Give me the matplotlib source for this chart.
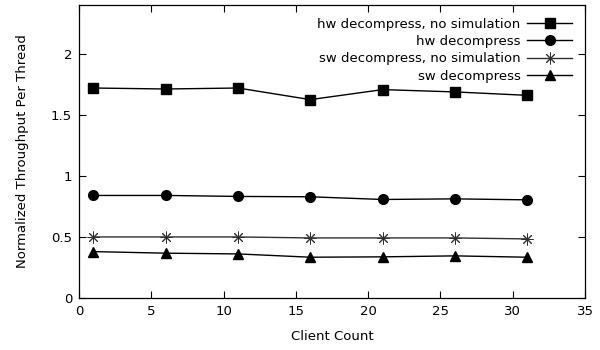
import matplotlib
matplotlib.use('Agg')
import matplotlib.pyplot as plt

plt.rc('font', size=9.5, family='DejaVu Sans')

clients = [1, 6, 11, 16, 21, 26, 31]

hw_nosim = [1.72, 1.712, 1.72, 1.625, 1.707, 1.688, 1.66]
hw = [0.84, 0.84, 0.832, 0.829, 0.807, 0.812, 0.804]
sw_nosim = [0.50, 0.50, 0.50, 0.492, 0.492, 0.492, 0.484]
sw = [0.38, 0.367, 0.361, 0.334, 0.337, 0.345, 0.334]

labels = ['hw decompress, no simulation', 'hw decompress',
          'sw decompress, no simulation', 'sw decompress']

fig = plt.figure(figsize=(6.0, 3.5), dpi=100)
ax = fig.add_axes([0.1317, 0.1486, 0.975 - 0.1317, 0.9857 - 0.1486])

ms = 6.5
ax.plot(clients, hw_nosim, color='black', lw=1, marker='s', ms=ms, label=labels[0])
ax.plot(clients, hw, color='black', lw=1, marker='o', ms=ms + 0.5, label=labels[1])
ax.plot(clients, sw_nosim, color='#303030', lw=1, marker=(8, 2, 0), ms=ms + 2,
        mew=0.7, label=labels[2])
ax.plot(clients, sw, color='black', lw=1, marker='^', ms=ms + 0.5, label=labels[3])

ax.set_xlim(0, 35)
ax.set_ylim(0, 2.4)
ax.set_xticks([0, 5, 10, 15, 20, 25, 30, 35])
ax.set_yticks([0, 0.5, 1, 1.5, 2])
ax.set_yticklabels(['0', '0.5', '1', '1.5', '2'])
ax.tick_params(direction='in', top=True, right=True, length=5, width=0.8, pad=5)
for s in ax.spines.values():
    s.set_linewidth(0.9)

ax.set_xlabel('Client Count', labelpad=9)
ax.set_ylabel('Normalized Throughput Per Thread', labelpad=16)

leg = ax.legend(loc='upper right', markerfirst=False, frameon=False,
                handlelength=3.4, handletextpad=0.5, labelspacing=0.33,
                borderaxespad=0.0, bbox_to_anchor=(0.985, 0.975))
for t in leg.get_texts():
    t.set_ha('right')
leg._legend_box.align = 'right'

fig.savefig('out.png', dpi=100)
